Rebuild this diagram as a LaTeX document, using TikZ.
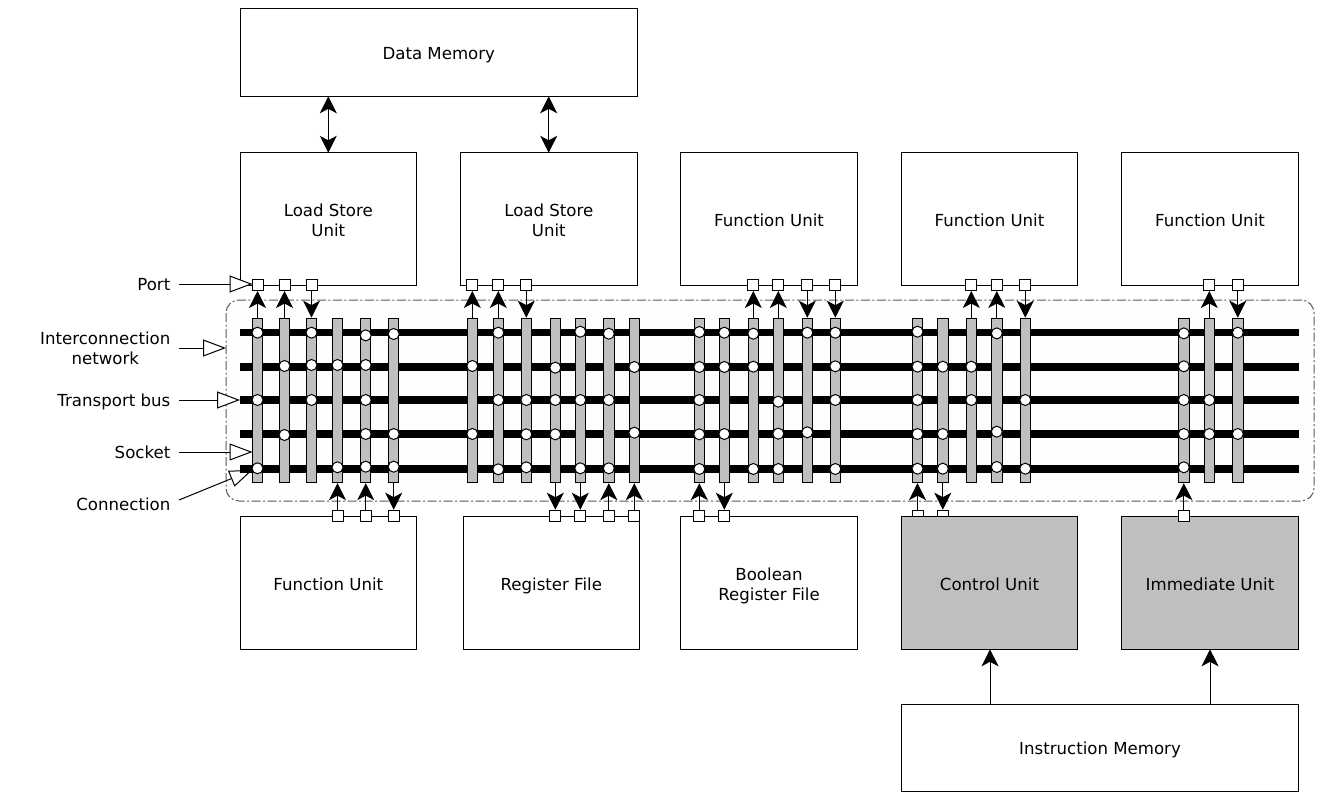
\documentclass[tikz,border=0pt]{standalone}
\usepackage{fontspec}
\setmainfont{DejaVu Sans}
\usetikzlibrary{arrows.meta}
\definecolor{barg}{gray}{0.75}
\newcommand{\txtfont}{\fontsize{16.6}{20}\selectfont}
\tikzset{
  x=1pt,y=-1pt,
  unitbox/.style={draw,line width=1pt,rectangle,inner sep=0pt,outer sep=0pt,anchor=north west},
  unittext/.style={align=center,inner sep=0pt,font=\txtfont,yshift=-3.2pt},
  busline/.style={line width=7.5pt},
  barnode/.style={draw,line width=1pt,fill=barg,rectangle,inner sep=0pt,minimum width=10.5pt,minimum height=164.5pt},
  portnode/.style={draw,line width=1pt,fill=white,rectangle,inner sep=0pt,minimum size=11pt},
  sock/.style={draw,line width=1pt,fill=white,circle,inner sep=0pt,minimum size=11pt},
  lbl/.style={anchor=east,align=center,inner sep=0pt,font=\txtfont,yshift=-2.3pt},
  flow/.style={line width=1pt,-{Stealth[length=17pt,width=17pt,inset=4.5pt]}},
  dflow/.style={line width=1pt,{Stealth[length=17pt,width=17pt,inset=4.5pt]}-{Stealth[length=17pt,width=17pt,inset=4.5pt]}},
  call/.style={line width=1pt,-{Triangle[length=23pt,width=17pt,fill=white,line width=1pt]}},
}
\newcommand{\ubox}[7][white]{% fill, name, x0,y0,x1,y1,text
  \node[unitbox,fill=#1,minimum width=#5pt-#3pt,minimum height=#6pt-#4pt] (#2) at (#3,#4) {};
  \node[unittext] at (#2.center) {#7};
}
\begin{document}
\begin{tikzpicture}
\useasboundingbox (0,0) rectangle (1324,802);
% interconnection network outline
\draw[black!65,line width=1pt,dash pattern=on 9pt off 2.5pt on 2pt off 2.5pt,rounded corners=13pt,fill=black!0.5] (226,300) rectangle (1314,501);
% white unit boxes
\ubox{dm}{240.3}{8.8}{637.3}{96.3}{\strut Data Memory}
\ubox{ls1}{240.3}{152.8}{416.3}{285}{\strut Load Store\\\strut Unit}
\ubox{ls2}{460.3}{152.8}{637.3}{285}{\strut Load Store\\\strut Unit}
\ubox{fu1}{680.8}{152.8}{857.3}{285}{\strut Function Unit}
\ubox{fu2}{901.5}{152.8}{1077.5}{285}{\strut Function Unit}
\ubox{fu3}{1121.5}{152.8}{1298.5}{285}{\strut Function Unit}
\ubox{fu4}{240.3}{516.3}{416.3}{649.3}{\strut Function Unit}
\ubox{rf}{463.3}{516.3}{639.3}{649.3}{\strut Register File}
\ubox{brf}{680.8}{516.3}{857.3}{649.3}{\strut Boolean\\\strut Register File}
% callouts
\node[lbl] (lport) at (170.5,284.5) {\strut Port};
\node[lbl] (lnet) at (170.5,348.5) {\strut Interconnection\\\strut network};
\node[lbl] (lbus) at (170.5,400.5) {\strut Transport bus};
\node[lbl] (lsock) at (170.5,452.5) {\strut Socket};
\node[lbl] (lconn) at (170.5,504.5) {\strut Connection};
\coordinate (cport) at (252.5,284);
\coordinate (cnet) at (226,348);
\coordinate (cbus) at (240,400);
\coordinate (csock) at (252.5,452);
\coordinate (cconn) at (252.5,470);
\coordinate (tport) at (179,284);
\coordinate (tnet) at (179,348);
\coordinate (tbus) at (179,400);
\coordinate (tsock) at (179,452);
\coordinate (tconn) at (179,500);
\foreach \c in {port,net,bus,sock,conn} \draw[call] (t\c) -- (c\c);
% buses
\coordinate (busL1) at (240,332.7);\coordinate (busR1) at (1299,332.7);
\coordinate (busL2) at (240,367);\coordinate (busR2) at (1299,367);
\coordinate (busL3) at (240,400);\coordinate (busR3) at (1299,400);
\coordinate (busL4) at (240,434);\coordinate (busR4) at (1299,434);
\coordinate (busL5) at (240,469);\coordinate (busR5) at (1299,469);
\foreach \r in {1,...,5} \draw[busline] (busL\r) -- (busR\r);
% sockets (vertical bars) with connections: row/offset
\foreach \n/\x/\rows in {
 a/257.5/{1/0,3/0,5/-0.7}, b/284.5/{2/-1,4/1}, c/311.5/{1/0,2/-2,3/0}, d/337.5/{2/-2,5/-1.7}, e/365.7/{1/2.7,2/-2,3/0,4/0,5/-2.3}, f/393.7/{1/1.3,4/0,5/-2.3},
 g/472.3/{2/-1,4/0}, h/498.3/{1/0,3/0,5/0.3}, i/526.3/{3/0,4/0.3,5/-1.7}, j/555.3/{2/0.7,3/0,4/0.3}, k/580.3/{1/-1,3/0,5/-0.7}, l/608.8/{1/1,3/0,5/-0.7}, m/634.3/{2/0,4/-1.3},
 n/699.3/{1/-0.7,2/0,3/0,4/0.3,5/0}, o/724.3/{1/0,2/0,4/0}, p/753.3/{1/1,2/-0.3,5/0}, q/778.3/{3/1.7,4/-0.3,5/0}, r/807.3/{1/0,4/-1.7}, s/835.3/{1/0,2/-0.7,3/0,5/0},
 t/917.5/{1/-1,2/-0.3,3/0,4/0,5/-0.3}, u/942.8/{2/-0.3,4/0,5/-0.3}, v/971.3/{2/-0.3,3/0}, w/996.8/{1/0.7,4/-2.3,5/-2}, z/1025.3/{3/0,5/-0.3},
 A/1183.8/{1/0.7,2/-0.7,3/0,4/0,5/-1.7}, B/1209.3/{3/0,4/0}, C/1237.8/{1/0,4/0}}{
  \node[barnode] (bar\n) at (\x,400.4) {};
  \foreach \rr/\dy in \rows {
    \node[sock,yshift={-1pt*(\dy)}] (con\n\rr) at (busL\rr -| bar\n) {};
  }
}
% ports partly hidden behind the control unit
\foreach \b in {t,u}{
  \node[portnode] (port\b) at (bar\b |- 0,515.7) {};
}
% shaded unit boxes
\ubox[barg]{cu}{901.5}{516.3}{1077.5}{649.3}{\strut Control Unit}
\ubox[barg]{iu}{1121.5}{516.3}{1298.5}{649.3}{\strut Immediate Unit}
\ubox{im}{901.5}{704.5}{1298.5}{791}{\strut Instruction Memory}
% ports and flows
\foreach \b in {a,b,c,g,h,i,p,q,r,s,v,w,z,B,C}{
  \node[portnode] (port\b) at (bar\b |- 0,285) {};
}
\foreach \b in {d,e,f,j,k,l,m,n,o,A}{
  \node[portnode] (port\b) at (bar\b |- 0,515.7) {};
}
\foreach \b in {a,b,g,h,p,q,v,w,B}{
  \draw[flow] (bar\b.north) -- (port\b.south);
}
\foreach \b in {c,i,r,s,z,C}{
  \draw[flow] (port\b.south) -- (bar\b.north);
}
\foreach \b in {d,e,l,m,n,t,A}{
  \draw[flow] (port\b.north) -- (bar\b.south);
}
\foreach \b in {f,j,k,o,u}{
  \draw[flow] (bar\b.south) -- (port\b.north);
}
% memory links
\draw[dflow] (328.3,0 |- dm.south) -- (328.3,0 |- ls1.north);
\draw[dflow] (548.7,0 |- dm.south) -- (548.7,0 |- ls2.north);
\draw[flow] (990,0 |- im.north) -- (990,0 |- cu.south);
\draw[flow] (1210,0 |- im.north) -- (1210,0 |- iu.south);
\end{tikzpicture}
\end{document}
